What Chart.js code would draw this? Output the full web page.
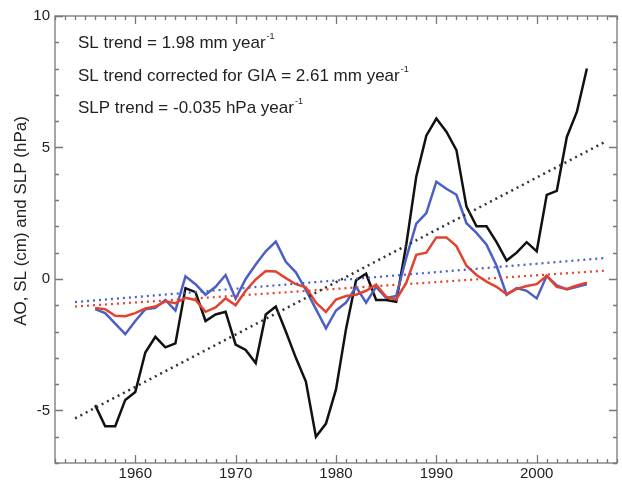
<!DOCTYPE html>
<html lang="en">
<head>
<meta charset="UTF-8">
<title>AO, SL and SLP</title>
<script src="https://cdn.jsdelivr.net/npm/chart.js"></script>
<style>
  html, body { margin: 0; padding: 0; background: #fff; }
</style>
</head>
<body>
<canvas id="chart" width="622" height="480"></canvas>
<script>
// annual values
const years = [1956, 1957, 1958, 1959, 1960, 1961, 1962, 1963, 1964, 1965,
               1966, 1967, 1968, 1969, 1970, 1971, 1972, 1973, 1974, 1975,
               1976, 1977, 1978, 1979, 1980, 1981, 1982, 1983, 1984, 1985,
               1986, 1987, 1988, 1989, 1990, 1991, 1992, 1993, 1994, 1995,
               1996, 1997, 1998, 1999, 2000, 2001, 2002, 2003, 2004, 2005];
const slValues = [-4.8, -5.6, -5.6, -4.6, -4.3, -2.8, -2.2, -2.6, -2.45, -0.35,
                  -0.5, -1.6, -1.35, -1.25, -2.5, -2.7, -3.2, -1.35, -1.05, -2.0,
                  -3.0, -3.9, -6.0, -5.5, -4.2, -1.9, -0.05, 0.2, -0.8, -0.8,
                  -0.87, 1.3, 3.9, 5.45, 6.1, 5.6, 4.9, 2.75, 2.0, 2.0,
                  1.4, 0.7, 1.0, 1.4, 1.05, 3.2, 3.35, 5.4, 6.35, 8.0];
const aoValues = [-1.15, -1.3, -1.7, -2.1, -1.6, -1.15, -1.1, -0.8, -1.2, 0.1,
                  -0.2, -0.6, -0.3, 0.15, -0.75, 0.0, 0.55, 1.05, 1.42, 0.65,
                  0.25, -0.42, -1.15, -1.88, -1.2, -0.9, -0.3, -0.9, -0.3, -0.72,
                  -0.65, 0.8, 2.1, 2.5, 3.7, 3.43, 3.2, 2.12, 1.75, 1.3,
                  0.5, -0.6, -0.35, -0.45, -0.74, 0.12, -0.25, -0.4, -0.3, -0.2];
const slpValues = [-1.1, -1.15, -1.4, -1.42, -1.3, -1.12, -1.05, -0.85, -0.92, -0.72,
                   -0.8, -1.25, -1.08, -0.74, -1.0, -0.45, -0.02, 0.3, 0.28, 0.03,
                   -0.2, -0.32, -0.9, -1.25, -0.78, -0.65, -0.6, -0.45, -0.22, -0.68,
                   -0.78, -0.15, 0.92, 1.0, 1.58, 1.58, 1.25, 0.5, 0.15, -0.1,
                   -0.3, -0.58, -0.38, -0.27, -0.2, 0.12, -0.3, -0.38, -0.25, -0.14];

// linear trends (end points)
const trendYears = [1954, 2007];
const slTrend = [-5.3, 5.25];
const aoTrend = [-0.88, 0.8];
const slpTrend = [-1.05, 0.32];

const xTickLabels = [1960, 1970, 1980, 1990, 2000];
const yTickLabels = [-5, 0, 5, 10];
const notes = ['SL trend = 1.98 mm year', 'SL trend corrected for GIA = 2.61 mm year', 'SLP trend = -0.035 hPa year'];
const yTitle = 'AO, SL (cm) and SLP (hPa)';

const FONT = '"Liberation Sans", Arial, Helvetica, sans-serif';

function pts(xs, ys) {
  return xs.map((x, i) => ({ x: x, y: ys[i] }));
}

// frame with inward ticks, the notes and the y title
const framePlugin = {
  id: 'frame',
  afterDraw(chart) {
    const ctx = chart.ctx;
    const { left, right, top, bottom } = chart.chartArea;
    const xs = chart.scales.x, ys = chart.scales.y;
    ctx.save();
    ctx.strokeStyle = '#777';
    ctx.lineWidth = 1.3;
    ctx.strokeRect(left, top, right - left, bottom - top);
    ctx.beginPath();
    for (let yr = Math.ceil(xs.min); yr <= xs.max; yr++) {
      const px = Math.round(xs.getPixelForValue(yr)) + 0.5;
      const len = yr % 10 === 0 ? 8 : 4;
      ctx.moveTo(px, bottom); ctx.lineTo(px, bottom - len);
      ctx.moveTo(px, top); ctx.lineTo(px, top + len);
    }
    for (let v = Math.ceil(ys.min); v <= ys.max; v++) {
      const py = Math.round(ys.getPixelForValue(v)) + 0.5;
      const len = v % 5 === 0 ? 8 : 4;
      ctx.moveTo(left, py); ctx.lineTo(left + len, py);
      ctx.moveTo(right, py); ctx.lineTo(right - len, py);
    }
    ctx.stroke();

    ctx.fillStyle = '#222';
    ctx.textBaseline = 'middle';
    const noteY = [43, 76, 108];
    notes.forEach((t, i) => {
      ctx.font = '17px ' + FONT;
      ctx.fillText(t, 78, noteY[i]);
      const w = ctx.measureText(t).width;
      ctx.font = '9px ' + FONT;
      ctx.fillText('-1', 78 + w + 1, noteY[i] - 6);
    });

    ctx.translate(21, 221);
    ctx.rotate(-Math.PI / 2);
    ctx.textAlign = 'center';
    ctx.font = '17px ' + FONT;
    ctx.fillText(yTitle, 0, 0);
    ctx.restore();
  }
};

new Chart(document.getElementById('chart'), {
  type: 'line',
  data: {
    datasets: [
      { label: 'SL trend', data: pts(trendYears, slTrend), borderColor: '#333', borderWidth: 2.5, borderDash: [2, 4] },
      { label: 'AO trend', data: pts(trendYears, aoTrend), borderColor: '#4b5fc4', borderWidth: 2.2, borderDash: [2, 4] },
      { label: 'SLP trend', data: pts(trendYears, slpTrend), borderColor: '#e2432f', borderWidth: 2.2, borderDash: [2, 4] },
      { label: 'SLP', data: pts(years, slpValues), borderColor: '#e2432f', borderWidth: 2.5 },
      { label: 'AO', data: pts(years, aoValues), borderColor: '#4b5fc4', borderWidth: 2.5 },
      { label: 'SL', data: pts(years, slValues), borderColor: '#111', borderWidth: 2.5 }
    ]
  },
  options: {
    responsive: false,
    animation: false,
    elements: { point: { radius: 0 }, line: { tension: 0 } },
    layout: { padding: { top: 16, right: 5, left: 0, bottom: 0 } },
    plugins: { legend: { display: false }, tooltip: { enabled: false } },
    scales: {
      x: {
        type: 'linear', min: 1952, max: 2008,
        grid: { display: false, drawTicks: false },
        border: { display: false },
        afterBuildTicks: s => { s.ticks = xTickLabels.map(v => ({ value: v })); },
        afterFit: s => { s.height = 17; },
        ticks: { padding: 2, color: '#222', maxRotation: 0, autoSkip: false,
                 font: { size: 15, family: FONT }, callback: v => String(v) }
      },
      y: {
        min: -7, max: 10,
        grid: { display: false, drawTicks: false },
        border: { display: false },
        afterBuildTicks: s => { s.ticks = yTickLabels.map(v => ({ value: v })); },
        afterFit: s => { s.width = 55; },
        ticks: { padding: 5, color: '#222', autoSkip: false, font: { size: 15, family: FONT } }
      }
    }
  },
  plugins: [framePlugin]
});
</script>
</body>
</html>
